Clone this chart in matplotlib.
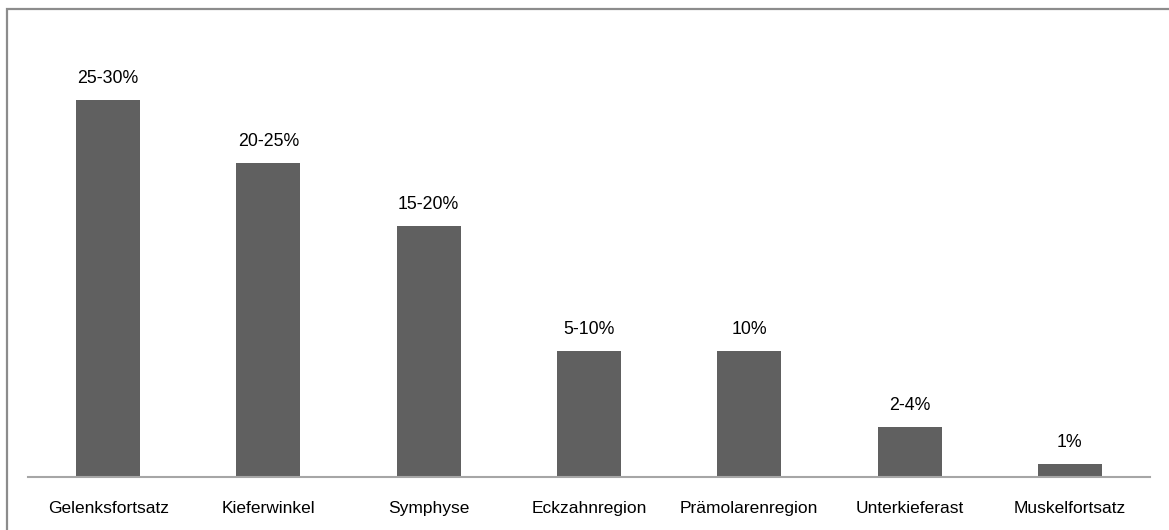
import matplotlib.pyplot as plt
from matplotlib.patches import Rectangle

regionen = ['Gelenksfortsatz', 'Kieferwinkel', 'Symphyse', 'Eckzahnregion',
            'Prämolarenregion', 'Unterkieferast', 'Muskelfortsatz']
anteil = [30, 25, 20, 10, 10, 4, 1]
beschriftung = ['25-30%', '20-25%', '15-20%', '5-10%', '10%', '2-4%', '1%']

plt.rcParams['font.family'] = ['Liberation Sans', 'DejaVu Sans']

fig = plt.figure(figsize=(11.69, 5.30), dpi=100)
ax = fig.add_axes([28 / 1169, 53 / 530, 1122 / 1169, 437 / 530])

x = range(len(regionen))
balken = ax.bar(x, anteil, width=0.4, color='#606060')

# Prozentangaben über den Balken
for b, txt in zip(balken, beschriftung):
    ax.annotate(txt, (b.get_x() + b.get_width() / 2, b.get_height()),
                xytext=(0, 17), textcoords='offset pixels',
                ha='center', va='baseline', fontsize=12.8)

ax.set_xlim(-0.5, len(regionen) - 0.5)
ax.set_ylim(0, 34.77)
ax.set_xticks(list(x))
ax.set_xticklabels(regionen, fontsize=12.5)
ax.tick_params(axis='x', length=0, pad=17.5)
ax.set_yticks([])
for s in ['top', 'left', 'right']:
    ax.spines[s].set_visible(False)
ax.spines['bottom'].set_color('#a6a6a6')
ax.spines['bottom'].set_linewidth(1.5)

# Rahmen um das Diagramm (rechts/unten abgeschnitten)
fig.patches.append(Rectangle((7 / 1169, -0.2), 1.2, 1.2 - 9 / 530,
                             transform=fig.transFigure, fill=False,
                             edgecolor='#8c8c8c', linewidth=1.6))

fig.savefig('out.png', dpi=100)
